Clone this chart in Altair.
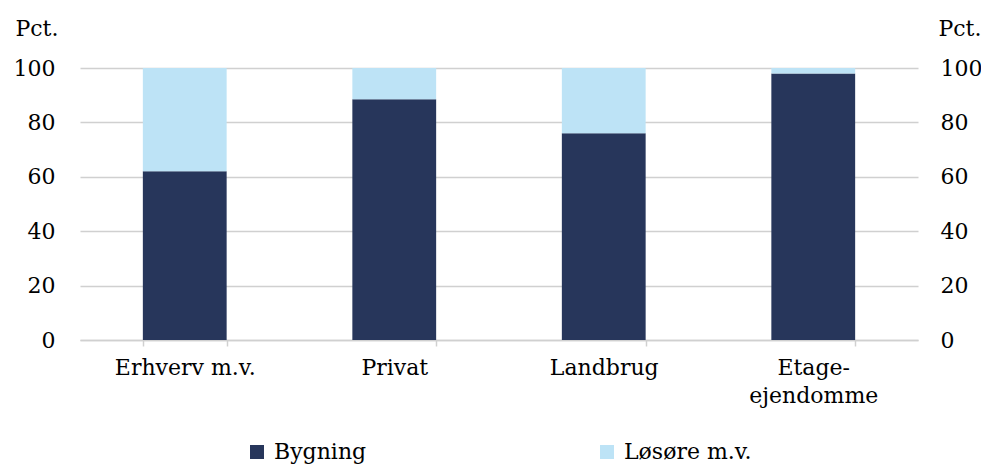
import altair as alt
import pandas as pd

categories = ["Erhverv m.v.", "Privat", "Landbrug", "Etage-ejendomme"]
bygning = [62.0, 88.5, 76.0, 98.0]
losore = [38.0, 11.5, 24.0, 2.0]
series = ["Bygning", "Løsøre m.v."]
colors = ["#27365b", "#bde3f6"]
y_ticks = [0, 20, 40, 60, 80, 100]

rows = []
for c, b, l in zip(categories, bygning, losore):
    rows.append({"kategori": c, "serie": series[0], "pct": b, "ord": 0})
    rows.append({"kategori": c, "serie": series[1], "pct": l, "ord": 1})
df = pd.DataFrame(rows)

FONT = "DejaVu Serif"
FS = 22

x_enc = alt.X(
    "kategori:N",
    sort=categories,
    scale=alt.Scale(paddingInner=0.6, paddingOuter=0.3),
    axis=alt.Axis(
        title=None,
        labelAngle=0,
        labelFont=FONT,
        labelFontSize=FS,
        labelColor="#000000",
        labelPadding=11,
        labelLineHeight=28,
        labelExpr="datum.label == 'Etage-ejendomme' ? ['Etage-', 'ejendomme'] : datum.label",
        domainColor="#d0d0d0",
        domainWidth=1.5,
        tickColor="#d0d0d0",
        tickWidth=1.5,
        tickSize=6,
        tickBand="extent",
        grid=False,
    ),
)

color_enc = alt.Color(
    "serie:N",
    scale=alt.Scale(domain=series, range=colors),
    legend=alt.Legend(
        title=None,
        orient="none",
        direction="horizontal",
        legendX=166,
        legendY=373,
        symbolType="square",
        symbolSize=196,
        symbolStrokeWidth=0,
        symbolOpacity=1,
        labelFont=FONT,
        labelFontSize=FS,
        labelColor="#000000",
        labelOffset=6,
        columnPadding=229,
        padding=0,
    ),
)

left = alt.Chart(df).mark_bar().encode(
    x=x_enc,
    y=alt.Y(
        "pct:Q",
        stack="zero",
        scale=alt.Scale(domain=[0, 100]),
        axis=alt.Axis(
            values=y_ticks,
            title="Pct.",
            titleAngle=0,
            titleX=-65,
            titleY=-33,
            titleAlign="left",
            titleBaseline="alphabetic",
            titleFont=FONT,
            titleFontSize=FS,
            titleFontWeight="normal",
            titleColor="#000000",
            labelFont=FONT,
            labelFontSize=FS,
            labelColor="#000000",
            labelPadding=25,
            ticks=False,
            domain=False,
            grid=True,
            gridColor="#d0d0d0",
            gridWidth=1.5,
        ),
    ),
    color=color_enc,
    order=alt.Order("ord:Q"),
)

right = alt.Chart(df).mark_bar(opacity=0).encode(
    x=alt.X("kategori:N", sort=categories),
    y=alt.Y(
        "pct:Q",
        stack="zero",
        scale=alt.Scale(domain=[0, 100]),
        axis=alt.Axis(
            orient="right",
            values=y_ticks,
            title="Pct.",
            titleAngle=0,
            titleX=20,
            titleY=-33,
            titleAlign="left",
            titleBaseline="alphabetic",
            titleFont=FONT,
            titleFontSize=FS,
            titleFontWeight="normal",
            titleColor="#000000",
            labelFont=FONT,
            labelFontSize=FS,
            labelColor="#000000",
            labelPadding=22,
            ticks=False,
            domain=False,
            grid=False,
        ),
    ),
    order=alt.Order("ord:Q"),
)

chart = (
    alt.layer(left, right)
    .resolve_scale(y="shared")
    .resolve_axis(y="independent")
    .properties(
        width=838,
        height=272,
        autosize=alt.AutoSizeParams(type="none"),
        padding={"left": 72, "top": 60, "right": 63, "bottom": 126},
    )
    .configure_view(stroke=None)
)

chart.save("out.html", embed_options={"renderer": "svg", "actions": False})
